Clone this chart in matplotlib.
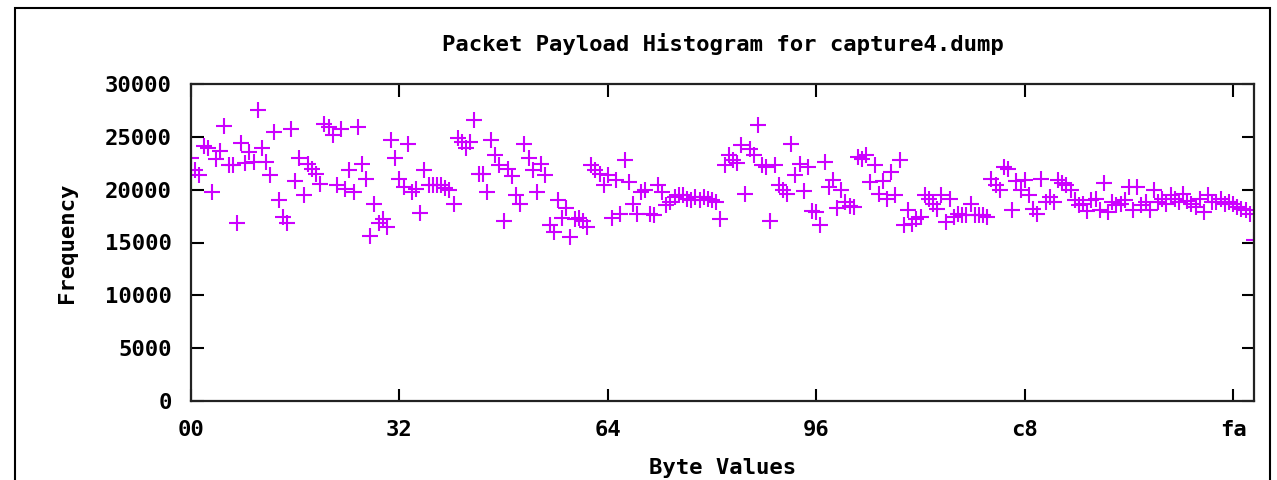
import matplotlib.pyplot as plt
from matplotlib.patches import Rectangle

plt.switch_backend("Agg")

TITLE = "Packet Payload Histogram for capture4.dump"
X_LABEL = "Byte Values"
Y_LABEL = "Frequency"

# frequency of each byte value 0x00 .. 0xff
frequency = [
    23000, 21900, 21350, 24100, 23900, 19800, 22900, 23700, 26000, 22300, 22300, 16800, 24400, 22500, 23600, 22600,
    27500, 23950, 22600, 21350, 25500, 19050, 17400, 16860, 25700, 20800, 23000, 19450, 22460, 22000, 21450, 20570,
    26250, 25900, 25200, 20400, 25700, 20100, 21900, 19770, 25900, 22460, 21040, 15660, 18670, 16830, 17240, 16450,
    24700, 23030, 21040, 20240, 24300, 19770, 20090, 17800, 21900, 20400, 20400, 20400, 20400, 20200, 19930, 18670,
    24930, 24520, 23950, 24520, 26570, 21450, 21450, 19770, 24740, 23250, 22300, 16990, 22000, 21300, 19450, 18670,
    24360, 23030, 21900, 19770, 22400, 21350, 16670, 15970, 19050, 17300, 18290, 15500, 17180, 17300, 17000, 16450,
    22300, 21830, 21510, 20400, 21350, 17300, 20880, 17720, 22840, 20720, 18670, 17720, 19770, 19930, 17720, 17560,
    20400, 19770, 18510, 18820, 19300, 19450, 19450, 19130, 18980, 19300, 18980, 19300, 19130, 18980, 18820, 17240,
    22300, 23250, 22780, 22540, 24200, 19550, 23880, 23300, 26160, 22300, 22140, 16990, 22300, 20400, 20000, 19610,
    24360, 21350, 22460, 19830, 22140, 17940, 17900, 16610, 22620, 20240, 20880, 18290, 19930, 18820, 18500, 18350,
    23090, 22900, 23250, 20720, 22300, 19610, 20780, 19080, 21670, 19450, 22840, 16610, 18030, 16770, 17240, 17400,
    19450, 19130, 18670, 18190, 19450, 16920, 19130, 17400, 17720, 17560, 17560, 18670, 17560, 17560, 17560, 17400,
    21040, 20400, 19930, 22140, 21990, 18100, 20780, 19930, 20880, 19450, 18190, 17720, 20970, 18820, 19300, 18880,
    20880, 20600, 20400, 19930, 18980, 18510, 18670, 18000, 18980, 19130, 18030, 20630, 17880, 18880, 18510, 18670,
    18980, 20240, 18030, 20240, 18510, 18820, 18030, 20000, 18820, 19130, 18670, 19450, 19130, 18800, 19610, 18900,
    18670, 18350, 19130, 17880, 19450, 18800, 18800, 19130, 18670, 18800, 18670, 18350, 18190, 18030, 17700, 15280,
]
byte_values = list(range(len(frequency)))

x_ticks = [0, 50, 100, 150, 200, 250]
x_tick_labels = ["00", "32", "64", "96", "c8", "fa"]
y_ticks = [0, 5000, 10000, 15000, 20000, 25000, 30000]

FONT = {"family": "DejaVu Sans Mono", "weight": "bold", "size": 16}
MARKER_COLOR = "#cc00ff"

figure = plt.figure(figsize=(12.77, 4.80), dpi=100)

# outer frame of the screenshot
figure.patches.append(
    Rectangle((15 / 1277, -0.1), 1255 / 1277, 1.1 - 8 / 480,
              transform=figure.transFigure, fill=False,
              edgecolor="black", linewidth=1.5)
)

axis = figure.add_axes([191 / 1277, 1 - 401 / 480, 1063 / 1277, 317 / 480])
axis.plot(byte_values, frequency, linestyle="none", marker="+",
          markersize=11, markeredgewidth=1.5, color=MARKER_COLOR)

axis.set_xlim(0, 255)
axis.set_ylim(0, 30000)
axis.set_xticks(x_ticks)
axis.set_xticklabels(x_tick_labels, fontdict=FONT)
axis.set_yticks(y_ticks)
axis.set_yticklabels([str(v) for v in y_ticks], fontdict=FONT)
axis.tick_params(axis="x", pad=14)
axis.tick_params(axis="y", pad=14)
axis.tick_params(direction="in", length=9, width=1.5, top=True, right=True,
                 colors="black")
for spine in axis.spines.values():
    spine.set_linewidth(1.6)
    spine.set_color("#222222")

axis.set_title(TITLE, fontdict=FONT, pad=24)
axis.set_xlabel(X_LABEL, fontdict=FONT, labelpad=13)
axis.set_ylabel(Y_LABEL, fontdict=FONT, labelpad=20)

figure.savefig("out.png", dpi=100)
plt.close(figure)
